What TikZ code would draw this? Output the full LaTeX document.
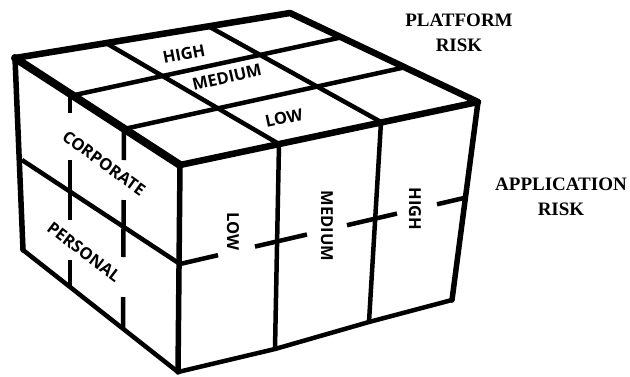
\documentclass[tikz,border=0pt]{standalone}
\usepackage{fontspec}
\newfontfamily\labfont{Open Sans}
\newfontfamily\serfont{Liberation Serif}
\usetikzlibrary{calc}
\begin{document}
\begin{tikzpicture}[x=1pt,y=-1pt,
  edge/.style={line width=6.5pt,line join=round,line cap=round},
  bedge/.style={line width=4.5pt,line join=round,line cap=round},
  gridline/.style={line width=4.5pt},
  facelbl/.style={font=\labfont\bfseries\fontsize{16.5}{18}\selectfont,inner sep=0pt},
  axislbl/.style={font=\serfont\bfseries\fontsize{19}{24.5}\selectfont,align=center,inner sep=0pt}]
\useasboundingbox[fill=white] (0,0) rectangle (630,376);
% corners
\coordinate (L) at (15,58);
\coordinate (B) at (290,13);
\coordinate (R) at (478,102);
\coordinate (F) at (180,165);
\coordinate (Lb) at (23,250);
\coordinate (Fb) at (178,372);
\coordinate (Rb) at (452,300);
% top grid
\coordinate (a1) at (70,96);   \coordinate (a2) at (343,37);
\coordinate (b1) at (124,129); \coordinate (b2) at (406,67);
\coordinate (d1) at (106,43);  \coordinate (d1f) at (279,144);
\coordinate (d2) at (208,26);  \coordinate (d2f) at (381,122);
% sides
\coordinate (v1b) at (275,349); \coordinate (v2b) at (369,322);
\coordinate (Lm) at (22,160); \coordinate (Fm) at (180,264); \coordinate (Rm) at (464,198);
\coordinate (p1b) at (70,287); \coordinate (p2b) at (123,329);

% top grid lines
\draw[gridline] (a1) -- (a2);
\draw[gridline] (b1) -- (b2);
\draw[gridline] (d1) -- (d1f);
\draw[gridline] (d2) -- (d2f);
% right face verticals
\draw[gridline] (d1f) -- (v1b);
\draw[gridline] (d2f) -- (v2b);
% left face middle line
\draw[gridline] (Lm) -- (Fm);
% right face middle line (broken)
\foreach \s/\e in {0/0.134,0.264/0.447,0.588/0.764,0.905/1}
  \draw[gridline] ($(Fm)!\s!(Rm)$) -- ($(Fm)!\e!(Rm)$);
% left face verticals (broken)
\foreach \s/\e in {0/0.09,0.335/0.65,0.86/1}
  \draw[gridline] ($(a1)!\s!(p1b)$) -- ($(a1)!\e!(p1b)$);
\foreach \s/\e in {0/0.155,0.355/0.64,0.84/1}
  \draw[gridline] ($(b1)!\s!(p2b)$) -- ($(b1)!\e!(p2b)$);
% outer edges
\draw[bedge] (Lb) -- (Fb) -- (v1b) -- (v2b) -- (Rb);
\draw[edge,line width=5.5pt] (L) -- (Lb);
\draw[edge,line width=5.5pt] (F) -- (Fb);
\draw[edge,line width=5.5pt] (R) -- (Rb);
\draw[edge] (L) -- (B) -- (R) -- (F) -- cycle;
\draw[edge,line width=8pt] (L) -- (F);

% top labels
\node[facelbl,rotate=11] (tHigh) at (184,54) {HIGH};
\node[facelbl,rotate=13] (tMed) at (227,77) {MEDIUM};
\node[facelbl,rotate=12] (tLow) at (284,118) {LOW};
% left labels
\node[facelbl,rotate=-36] (lCorp) at (104,163) {CORPORATE};
\node[facelbl,rotate=-37] (lPers) at (84,252) {PERSONAL};
% right labels
\node[facelbl,rotate=-90] (rLow) at (233,231) {LOW};
\node[facelbl,rotate=-90] (rMed) at (327,226) {MEDIUM};
\node[facelbl,rotate=-90] (rHigh) at (415,209) {HIGH};
% axis labels
\node[axislbl] (plat) at (459,33) {PLATFORM\\RISK};
\node[axislbl] (app) at (561,197) {APPLICATION\\RISK};
\end{tikzpicture}
\end{document}
